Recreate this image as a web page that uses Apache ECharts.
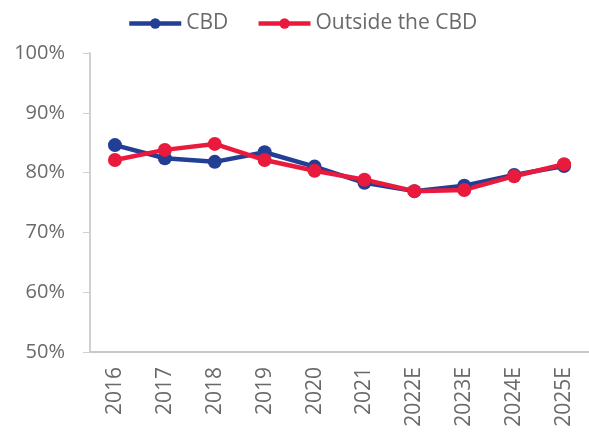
<!DOCTYPE html>
<html><head><meta charset="utf-8">
<script src="https://cdn.jsdelivr.net/npm/echarts@6/dist/echarts.min.js"></script>
<style>html,body{margin:0;padding:0;background:#fff}#c{width:589px;height:436px}</style>
</head><body><div id="c"></div>
<script>
const categories = ['2016','2017','2018','2019','2020','2021','2022E','2023E','2024E','2025E'];
const cbd = [84.6, 82.4, 81.8, 83.4, 81.0, 78.3, 76.9, 77.8, 79.6, 81.1];
const outside = [82.1, 83.8, 84.8, 82.1, 80.3, 78.8, 76.9, 77.1, 79.4, 81.4];
const seriesNames = ['CBD', 'Outside the CBD'];
const yTicks = [50, 60, 70, 80, 90, 100];

const chart = echarts.init(document.getElementById('c'));
const font = 'Open Sans';
chart.setOption({
  animation: false,
  legend: {
    top: 8, left: 122, itemWidth: 52, itemHeight: 13, itemGap: 28,
    lineStyle: { width: 4.5 },
    textStyle: { fontFamily: font, fontSize: 21, color: '#6a6a6a' },
    data: seriesNames
  },
  grid: { left: 90, right: -1, top: 53, bottom: 84 },
  xAxis: {
    type: 'category', data: categories, boundaryGap: true,
    axisLine: { lineStyle: { color: '#c8c8c8', width: 2 } },
    axisTick: { show: false },
    axisLabel: { rotate: 90, fontFamily: font, fontSize: 21, color: '#6a6a6a', margin: 15 }
  },
  yAxis: {
    type: 'value', min: yTicks[0], max: yTicks[yTicks.length-1], interval: 10,
    splitLine: { show: false },
    axisLine: { show: true, lineStyle: { color: '#d0d0d0', width: 2 } },
    axisTick: { show: true, length: 7, lineStyle: { color: '#d0d0d0' } },
    axisLabel: { formatter: v => v + '%', fontFamily: font, fontSize: 20, color: '#6a6a6a', margin: 25 }
  },
  series: [
    { name: seriesNames[0], type: 'line', data: cbd, symbol: 'circle', symbolSize: 14,
      lineStyle: { width: 4.5, color: '#233e95' }, itemStyle: { color: '#233e95' } },
    { name: seriesNames[1], type: 'line', data: outside, symbol: 'circle', symbolSize: 14,
      lineStyle: { width: 4.5, color: '#ea1a3d' }, itemStyle: { color: '#ea1a3d' } }
  ]
});
</script></body></html>
